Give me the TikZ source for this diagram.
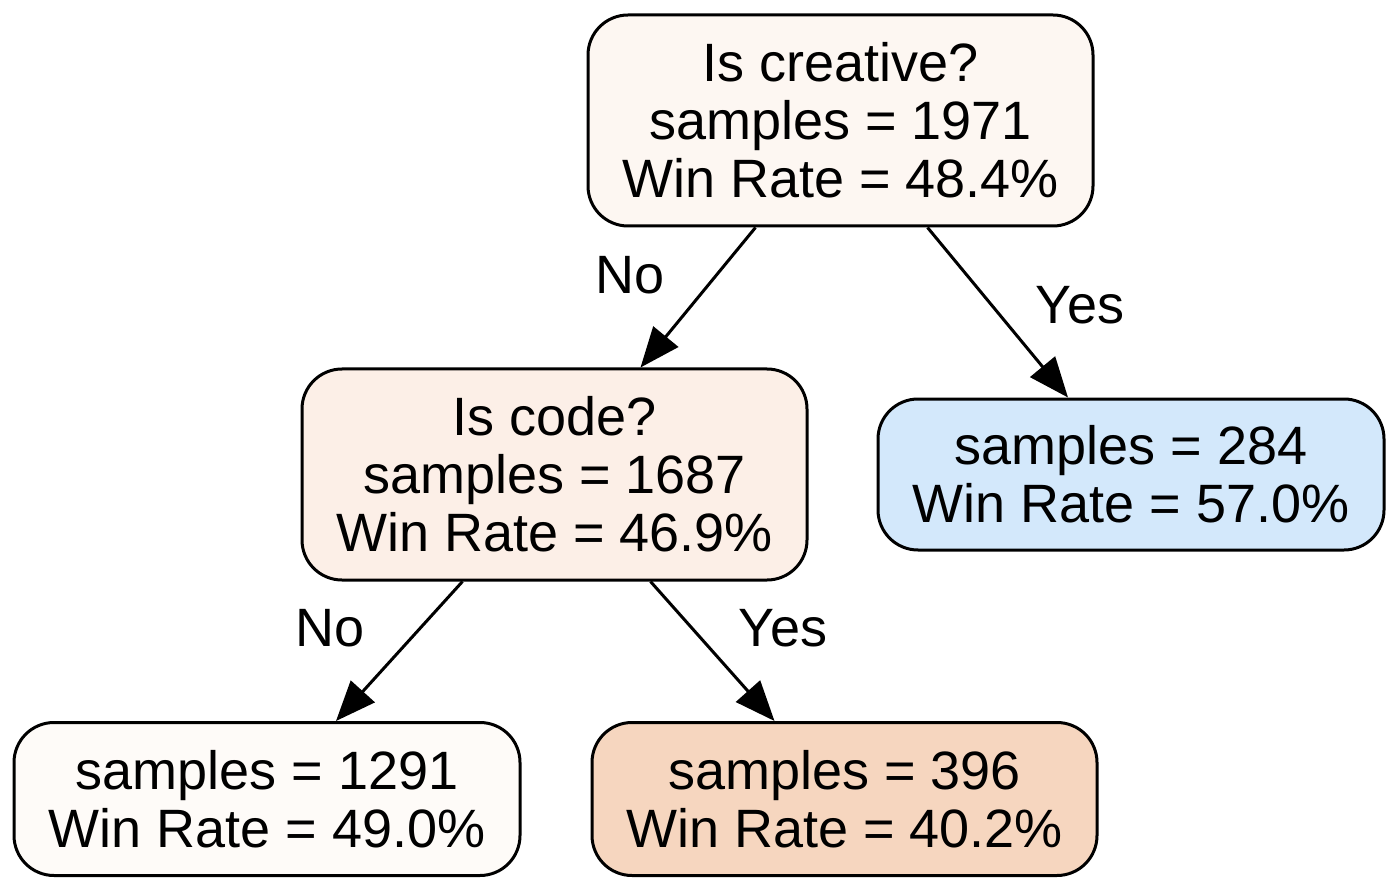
\documentclass[tikz,border=0pt]{standalone}
\usepackage{fontspec}
\setmainfont{Liberation Sans}
\usetikzlibrary{arrows.meta}
\definecolor{cRoot}{HTML}{FDF7F2}
\definecolor{cCode}{HTML}{FCEFE7}
\definecolor{cRight}{HTML}{D3E8FB}
\definecolor{cLeft}{HTML}{FEFBF8}
\definecolor{cBad}{HTML}{F6D6BF}
\begin{document}
\begin{tikzpicture}[x=1pt,y=-1pt,
  treenode/.style={draw=black, line width=3pt, rounded corners=40pt, align=center,
    minimum width=505pt, inner sep=0pt, font=\fontsize{54}{58}\selectfont},
  inner4/.style={treenode, minimum height=211pt},
  leaf4/.style={treenode, minimum height=153pt},
  arr/.style={line width=3pt, -{Triangle[length=40pt,width=32pt]}},
  lbl/.style={font=\fontsize{54}{58}\selectfont}]
\useasboundingbox (0,0) rectangle (1400,890);
\node[inner4, fill=cRoot] (root) at (840.5,120.5) {Is creative?\\samples = 1971\\Win Rate = 48.4\%};
\node[inner4, fill=cCode] (code) at (554.5,474.5) {Is code?\\samples = 1687\\Win Rate = 46.9\%};
\node[leaf4, fill=cRight, minimum height=151pt, minimum width=506pt] (right) at (1131,474.5) {samples = 284\\Win Rate = 57.0\%};
\node[leaf4, fill=cLeft, minimum width=506pt] (left) at (267,799) {samples = 1291\\Win Rate = 49.0\%};
\node[leaf4, fill=cBad] (bad) at (844.5,799) {samples = 396\\Win Rate = 40.2\%};
\draw[arr] ([xshift=-85pt]root.south) -- ([xshift=86pt]code.north);
\draw[arr] ([xshift=87pt]root.south) -- ([xshift=-63pt]right.north);
\draw[arr] ([xshift=-92pt]code.south) -- ([xshift=69pt]left.north);
\draw[arr] ([xshift=96pt]code.south) -- ([xshift=-70pt]bad.north);
\node[lbl] (l1) at (630,275) {No};
\node[lbl] (l2) at (1080,305) {Yes};
\node[lbl] (l3) at (330,628) {No};
\node[lbl] (l4) at (783,628) {Yes};
\end{tikzpicture}
\end{document}
